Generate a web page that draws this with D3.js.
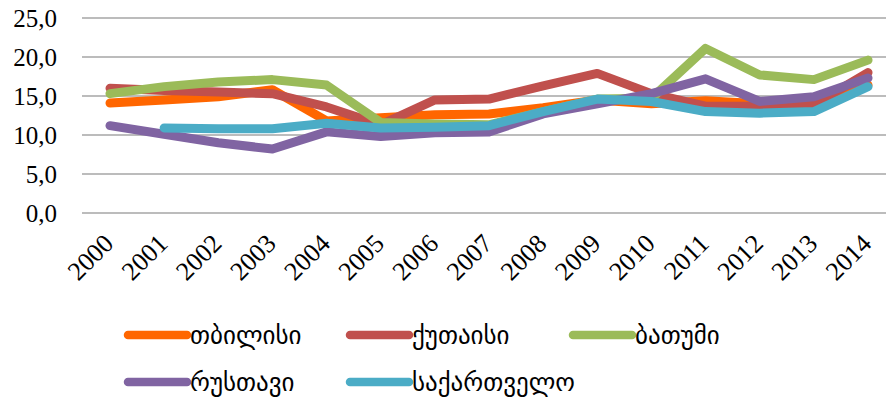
<!DOCTYPE html>
<html>
<head>
    <meta charset="utf-8">
    <script src="https://d3js.org/d3.v7.min.js"></script>
    <style>
        body { margin: 0; background: #fff; }
        .tick-label { font-family: "Liberation Serif", serif; font-size: 25px; fill: #000; }
        .x-label { font-size: 26px; }
        .legend text { font-family: "DejaVu Sans", sans-serif; font-size: 25px; fill: #000; }
        .grid line { stroke: #a6a6a6; stroke-width: 1.5px; }
        .series { fill: none; stroke-width: 9px; stroke-linecap: round; stroke-linejoin: round; }
    </style>
</head>
<body>
    <div id="chart"></div>

    <script>
        // Data
        const years = ["2000", "2001", "2002", "2003", "2004", "2005", "2006", "2007",
                       "2008", "2009", "2010", "2011", "2012", "2013", "2014"];
        const tbilisi    = [14.1, 14.5, 14.9, 15.8, 11.8, 12.2, 12.6, 12.7, 13.5, 14.5, 14.0, 14.4, 14.0, 14.1, 16.4];
        const kutaisi    = [16.0, 15.7, 15.5, 15.3, 13.6, 11.3, 14.5, 14.6, 16.3, 17.9, 15.3, 13.7, 13.7, 13.9, 18.0];
        const batumi     = [15.3, 16.2, 16.8, 17.1, 16.4, 11.6, 11.4, 11.3, 13.0, 14.6, 14.7, 21.1, 17.7, 17.1, 19.6];
        const rustavi    = [11.2, 10.1, 9.0, 8.2, 10.4, 9.8, 10.3, 10.4, 12.7, 14.0, 15.3, 17.2, 14.3, 14.9, 17.3];
        const sakartvelo = [null, 10.9, 10.8, 10.8, 11.5, 10.9, 11.0, 11.2, 13.0, 14.6, 14.3, 13.0, 12.8, 13.0, 16.2];
        const yTicks = [0, 5, 10, 15, 20, 25];

        const series = [
            { name: "თბილისი", values: tbilisi, color: "#ff6600" },
            { name: "ქუთაისი", values: kutaisi, color: "#c0504d" },
            { name: "ბათუმი", values: batumi, color: "#9bbb59" },
            { name: "რუსთავი", values: rustavi, color: "#8064a2" },
            { name: "საქართველო", values: sakartvelo, color: "#4bacc6" }
        ];

        const width = 886, height = 403;

        const svg = d3.select("#chart")
            .append("svg")
            .attr("width", width)
            .attr("height", height);

        const x = d3.scalePoint().domain(years).range([110, 868]);
        const y = d3.scaleLinear().domain([0, 25]).range([213, 18]);

        // Horizontal grid lines
        svg.append("g")
            .attr("class", "grid")
            .selectAll("line")
            .data(yTicks)
            .join("line")
            .attr("x1", 82)
            .attr("x2", width)
            .attr("y1", d => y(d))
            .attr("y2", d => y(d));

        // Y axis labels
        svg.append("g")
            .selectAll("text")
            .data(yTicks)
            .join("text")
            .attr("class", "tick-label")
            .attr("x", 57)
            .attr("y", d => y(d))
            .attr("dy", "0.35em")
            .attr("text-anchor", "end")
            .text(d => d.toFixed(1).replace(".", ","));

        // X axis labels, rotated
        svg.append("g")
            .selectAll("text")
            .data(years)
            .join("text")
            .attr("class", "tick-label x-label")
            .attr("text-anchor", "end")
            .attr("transform", d => `translate(${x(d) + 5},${245}) rotate(-45)`)
            .text(d => d);

        // Lines
        const line = d3.line()
            .defined(d => d.v != null)
            .x(d => x(d.year))
            .y(d => y(d.v));

        svg.append("g")
            .selectAll("path")
            .data(series)
            .join("path")
            .attr("class", "series")
            .attr("stroke", d => d.color)
            .attr("d", d => line(d.values.map((v, i) => ({ year: years[i], v: v }))));

        // Legend
        const legendPos = [[128, 335], [350, 335], [573, 335], [128, 382], [350, 382]];
        const legend = svg.append("g")
            .attr("class", "legend")
            .selectAll("g")
            .data(series)
            .join("g")
            .attr("transform", (d, i) => `translate(${legendPos[i][0]},${legendPos[i][1]})`);

        legend.append("line")
            .attr("x1", 0)
            .attr("x2", 59)
            .attr("stroke", d => d.color)
            .attr("stroke-width", 8.5)
            .attr("stroke-linecap", "round");

        legend.append("text")
            .attr("x", 62)
            .attr("dy", "0.35em")
            .text(d => d.name);
    </script>
</body>
</html>
